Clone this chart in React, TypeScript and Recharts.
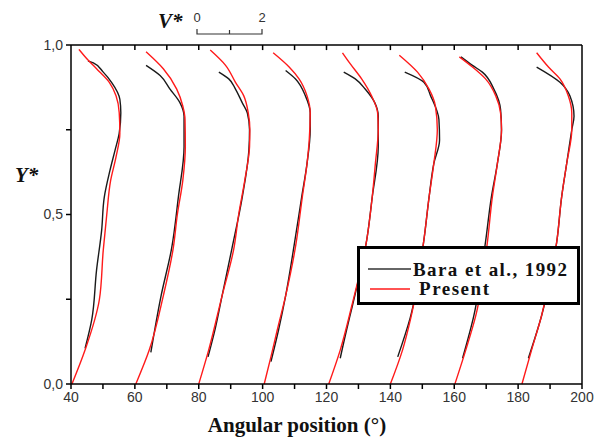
import { Line, LineChart, ReferenceLine, XAxis, YAxis } from 'recharts';

type Pt = [number, number];

// angular position (deg) / Y* pairs
const xTicks = [40, 50, 60, 70, 80, 90, 100, 110, 120, 130, 140, 150, 160, 170, 180, 190, 200];
const yTicks = [0, 0.25, 0.5, 0.75, 1];

const present40: Pt[] = [[40.3, 0], [44.4, 0.1], [48.9, 0.25], [50.1, 0.395], [51.2, 0.5], [52.4, 0.6], [54.1, 0.67], [55.3, 0.74], [55.1, 0.8], [54.1, 0.85], [52.0, 0.89], [48.0, 0.93], [45.4, 0.955], [42.5, 0.987]];
const bara40: Pt[] = [[44.4, 0.105], [46.5, 0.19], [48.0, 0.336], [49.6, 0.454], [50.4, 0.55], [52.2, 0.63], [53.8, 0.69], [55.1, 0.74], [55.6, 0.8], [55.3, 0.84], [52.7, 0.89], [50.1, 0.92], [47.0, 0.947], [45.3, 0.953]];

const present60: Pt[] = [[60.3, 0], [64.5, 0.1], [68.9, 0.26], [72.0, 0.4], [73.3, 0.5], [75.0, 0.6], [75.8, 0.7], [75.7, 0.78], [75.0, 0.82], [73.1, 0.87], [68.9, 0.93], [63.5, 0.98]];
const bara60: Pt[] = [[65.0, 0.093], [68.2, 0.26], [71.5, 0.4], [73.6, 0.55], [75.4, 0.7], [75.4, 0.79], [74.1, 0.83], [71.0, 0.87], [67.9, 0.91], [63.5, 0.94]];

const present80: Pt[] = [[80.0, 0], [83.1, 0.1], [87.3, 0.26], [91.0, 0.4], [92.5, 0.5], [94.4, 0.6], [95.9, 0.7], [96.0, 0.75], [95.5, 0.8], [94.1, 0.85], [91.5, 0.89], [88.4, 0.94], [83.6, 0.985]];
const bara80: Pt[] = [[82.9, 0.08], [85.2, 0.165], [87.3, 0.26], [90.4, 0.4], [93.6, 0.55], [95.7, 0.69], [95.9, 0.75], [95.2, 0.8], [93.6, 0.83], [91.5, 0.87], [89.4, 0.9], [86.3, 0.92]];

const present100: Pt[] = [[100.5, 0], [102.6, 0.08], [104.6, 0.16], [107.2, 0.26], [110.3, 0.405], [112.4, 0.55], [113.9, 0.65], [114.6, 0.72], [114.9, 0.8], [113.9, 0.85], [111.4, 0.9], [108.3, 0.935], [103.3, 0.977]];
const bara100: Pt[] = [[102.6, 0.066], [105.0, 0.16], [107.2, 0.26], [109.8, 0.405], [112.2, 0.55], [113.9, 0.65], [114.9, 0.75], [114.9, 0.8], [113.4, 0.85], [110.3, 0.9], [107.2, 0.925]];

const present120: Pt[] = [[120.7, 0], [124.3, 0.1], [127.9, 0.23], [132.6, 0.425], [134.3, 0.55], [135.3, 0.65], [136.2, 0.75], [136.0, 0.8], [134.1, 0.85], [131.0, 0.9], [127.4, 0.945], [125.0, 0.977]];
const bara120: Pt[] = [[124.3, 0.076], [126.3, 0.16], [128.1, 0.23], [132.6, 0.425], [134.3, 0.55], [136.2, 0.7], [136.2, 0.79], [135.1, 0.83], [132.1, 0.87], [129.0, 0.9], [125.4, 0.92]];

const present140: Pt[] = [[140.0, 0], [143.8, 0.1], [146.4, 0.195], [150.5, 0.425], [152.1, 0.55], [153.6, 0.65], [154.7, 0.75], [154.1, 0.82], [152.1, 0.87], [148.5, 0.92], [142.8, 0.97]];
const bara140: Pt[] = [[142.3, 0.08], [146.2, 0.195], [150.5, 0.425], [152.1, 0.55], [153.6, 0.65], [155.4, 0.72], [155.2, 0.78], [152.6, 0.85], [150.5, 0.89], [144.5, 0.92]];

const present160: Pt[] = [[160.2, 0], [163.6, 0.1], [166.7, 0.2], [170.4, 0.42], [171.9, 0.55], [173.5, 0.65], [174.8, 0.75], [174.5, 0.8], [173.0, 0.85], [169.8, 0.9], [165.7, 0.935], [161.6, 0.965]];
const bara160: Pt[] = [[162.6, 0.076], [166.1, 0.2], [169.8, 0.42], [171.6, 0.55], [173.5, 0.65], [174.8, 0.75], [174.5, 0.81], [172.4, 0.87], [168.8, 0.92], [165.7, 0.94], [162.1, 0.965]];

const present180: Pt[] = [[181.2, 0], [184.2, 0.1], [187.3, 0.2], [192.1, 0.42], [193.6, 0.55], [195.2, 0.65], [196.8, 0.75], [196.8, 0.8], [195.7, 0.85], [193.1, 0.9], [189.5, 0.935], [185.8, 0.977]];
const bara180: Pt[] = [[183.2, 0.076], [187.3, 0.2], [192.1, 0.42], [193.6, 0.55], [195.2, 0.65], [196.8, 0.75], [197.5, 0.79], [196.2, 0.85], [193.1, 0.89], [185.8, 0.935]];

const baraProfiles = [bara40, bara60, bara80, bara100, bara120, bara140, bara160, bara180];
const presentProfiles = [present40, present60, present80, present100, present120, present140, present160, present180];

const toRows = (pts: Pt[]) => pts.map(([x, y]) => ({ x, y }));

const serif = '"Liberation Serif", "Times New Roman", serif';
const sans = '"Liberation Sans", Arial, sans-serif';
const tickStyle = { fill: '#333', fontSize: 14, fontFamily: sans };

export default function App() {
  return (
    <div style={{ position: 'absolute', left: 0, top: 0, width: 601, height: 438, background: '#fff' }}>
      <LineChart width={601} height={438} margin={{ top: 44, right: 19, bottom: 0, left: 0 }}>
        <XAxis
          dataKey='x'
          type='number'
          domain={[40, 200]}
          ticks={xTicks}
          allowDataOverflow
          height={54}
          tickSize={5}
          tickMargin={3}
          tickFormatter={(v) => (v % 20 === 0 ? String(v) : '')}
          tick={tickStyle}
          stroke='#000'
          strokeWidth={1.5}
          interval={0}
        />
        {/* top frame line */}
        <XAxis
          xAxisId='top'
          dataKey='x'
          type='number'
          orientation='top'
          domain={[40, 200]}
          height={1}
          tick={false}
          tickLine={false}
          stroke='#000'
          strokeWidth={1.5}
        />
        <YAxis
          type='number'
          domain={[0, 1]}
          ticks={yTicks}
          width={71}
          tickSize={5}
          tickMargin={3}
          tickFormatter={(v) => (v === 0 || v === 0.5 || v === 1 ? v.toFixed(1).replace('.', ',') : '')}
          tick={tickStyle}
          stroke='#000'
          strokeWidth={1.5}
          interval={0}
        />
        <YAxis
          yAxisId='right'
          type='number'
          orientation='right'
          domain={[0, 1]}
          mirror
          tick={false}
          tickLine={false}
          stroke='#000'
          strokeWidth={1.5}
        />
        {/* inward tick marks along the top frame */}
        {xTicks.slice(1, -1).map((t) => (
          <ReferenceLine
            key={`top-tick-${t}`}
            segment={[{ x: t, y: 1 }, { x: t, y: 0.985 }]}
            stroke='#000'
            strokeWidth={1.5}
          />
        ))}
        {baraProfiles.map((pts, i) => (
          <Line
            key={`bara-${i}`}
            data={toRows(pts)}
            dataKey='y'
            type='monotoneY'
            stroke='#1a1a1a'
            strokeWidth={1.4}
            dot={false}
            activeDot={false}
            isAnimationActive={false}
          />
        ))}
        {presentProfiles.map((pts, i) => (
          <Line
            key={`present-${i}`}
            data={toRows(pts)}
            dataKey='y'
            type='monotoneY'
            stroke='#ff1a1a'
            strokeWidth={1.4}
            dot={false}
            activeDot={false}
            isAnimationActive={false}
          />
        ))}
      </LineChart>

      <svg width={601} height={438} style={{ position: 'absolute', left: 0, top: 0, pointerEvents: 'none' }}>
        {/* V* scale */}
        <text x={158} y={28} fontFamily={serif} fontSize={21} fontWeight='bold' fontStyle='italic' fill='#111'>V*</text>
        <text x={197} y={22} fontFamily={sans} fontSize={13} fill='#333' textAnchor='middle'>0</text>
        <text x={262} y={22} fontFamily={sans} fontSize={13} fill='#333' textAnchor='middle'>2</text>
        <path d='M197 29 V34 H262 V29 M229.5 34 V30' stroke='#333' strokeWidth={1.2} fill='none' />

        <text x={15} y={182} fontFamily={serif} fontSize={21} fontWeight='bold' fontStyle='italic' fill='#111'>Y*</text>
        <text x={297} y={432} fontFamily={serif} fontSize={21} fontWeight='bold' fill='#111' textAnchor='middle'>Angular position (°)</text>

        {/* legend */}
        <rect x={358.5} y={247.5} width={220} height={56} fill='#fff' stroke='#000' strokeWidth={3} />
        <line x1={368} y1={269} x2={411} y2={269} stroke='#333' strokeWidth={1.5} />
        <line x1={370} y1={289} x2={410} y2={289} stroke='#ff1a1a' strokeWidth={1.5} />
        <text x={413} y={276} fontFamily={serif} fontSize={19} fontWeight='bold' fill='#111' textLength={154}>Bara et al., 1992</text>
        <text x={419} y={295} fontFamily={serif} fontSize={19} fontWeight='bold' fill='#111' textLength={70}>Present</text>
      </svg>
    </div>
  );
}
